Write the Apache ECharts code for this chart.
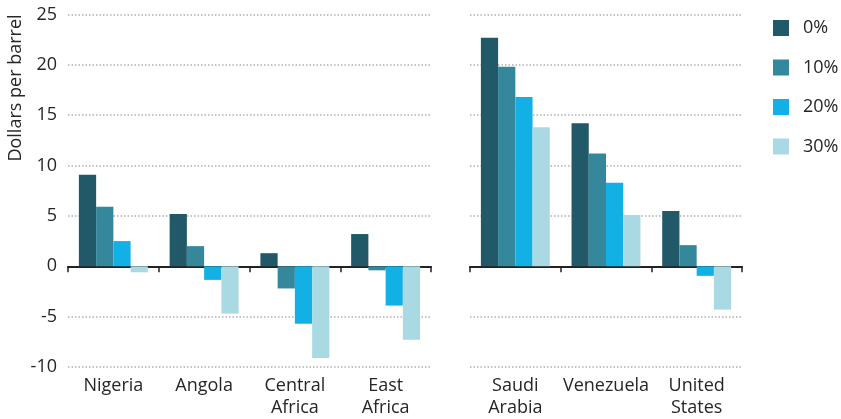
<!DOCTYPE html>
<html>
<head>
<meta charset="utf-8">
<script src="https://cdn.jsdelivr.net/npm/echarts@6/dist/echarts.min.js"></script>
<style>html,body{margin:0;padding:0;background:#fff}#c{width:841px;height:419px}</style>
</head>
<body>
<div id="c"></div>
<script>
var leftCategories = ['Nigeria', 'Angola', 'Central\nAfrica', 'East\nAfrica'];
var rightCategories = ['Saudi\nArabia', 'Venezuela', 'United\nStates'];
var seriesNames = ['0%', '10%', '20%', '30%'];
var leftValues = {
  '0%':  [9.1, 5.2, 1.3, 3.2],
  '10%': [5.9, 2.0, -2.2, -0.4],
  '20%': [2.5, -1.35, -5.7, -3.9],
  '30%': [-0.6, -4.7, -9.1, -7.3]
};
var rightValues = {
  '0%':  [22.7, 14.2, 5.5],
  '10%': [19.8, 11.2, 2.1],
  '20%': [16.8, 8.3, -0.95],
  '30%': [13.8, 5.1, -4.3]
};
var yTicks = { min: -10, max: 25, interval: 5 };
var colors = ['#215968', '#35879b', '#12b0e5', '#a9dae4'];
var yAxisTitle = 'Dollars per barrel';

var FONT = 'Open Sans';
var TXT = '#262626';
var FS = 18;

function xAxesFor(gridIndex, cats) {
  return [
    {
      type: 'category', gridIndex: gridIndex, data: cats, position: 'bottom',
      axisLine: { show: false, onZero: false }, axisTick: { show: false },
      axisLabel: { color: TXT, fontFamily: FONT, fontSize: FS, margin: 8, lineHeight: 22, interval: 0 },
      splitLine: { show: false }
    },
    {
      type: 'category', gridIndex: gridIndex, data: cats, position: 'bottom',
      axisLine: { show: true, onZero: true, lineStyle: { color: '#222', width: 2 } },
      axisTick: { show: true, length: 6, lineStyle: { color: '#222', width: 1.5 } },
      axisLabel: { show: false }, splitLine: { show: false }
    }
  ];
}
function yAxisFor(gridIndex, showLabels) {
  return {
    type: 'value', gridIndex: gridIndex, min: yTicks.min, max: yTicks.max, interval: yTicks.interval,
    axisLine: { show: false }, axisTick: { show: false },
    axisLabel: { show: showLabels, color: TXT, fontFamily: FONT, fontSize: FS, margin: 11 },
    splitLine: { show: true, lineStyle: { color: '#b0b0b0', type: [1.5, 2], width: 1.5 } }
  };
}

var series = [];
seriesNames.forEach(function (n, i) {
  series.push({
    name: n, type: 'bar', xAxisIndex: 0, yAxisIndex: 0, data: leftValues[n],
    itemStyle: { color: colors[i] }, barGap: '0%', barCategoryGap: '24%'
  });
});
seriesNames.forEach(function (n, i) {
  series.push({
    name: n, type: 'bar', xAxisIndex: 2, yAxisIndex: 1, data: rightValues[n],
    itemStyle: { color: colors[i] }, barGap: '0%', barCategoryGap: '24%'
  });
});

var chart = echarts.init(document.getElementById('c'), null, { renderer: 'canvas' });
chart.setOption({
  animation: false,
  color: colors,
  grid: [
    { left: 68, right: 410, top: 14.5, bottom: 50 },
    { left: 470, right: 99, top: 14.5, bottom: 50 }
  ],
  xAxis: xAxesFor(0, leftCategories).concat(xAxesFor(1, rightCategories)),
  yAxis: [yAxisFor(0, true), yAxisFor(1, false)],
  legend: {
    data: seriesNames, orient: 'vertical', left: 768, top: 14,
    itemWidth: 16, itemHeight: 16, itemGap: 21.5, icon: 'rect',
    textStyle: { color: TXT, fontFamily: FONT, fontSize: FS, padding: [0, 0, 0, 9], lineHeight: 16 }
  },
  graphic: [{
    type: 'text', x: 7, y: 88, rotation: Math.PI / 2,
    style: { text: yAxisTitle, fill: TXT, font: FS + 'px "Open Sans"', align: 'center', verticalAlign: 'top' }
  }],
  series: series
});
</script>
</body>
</html>
